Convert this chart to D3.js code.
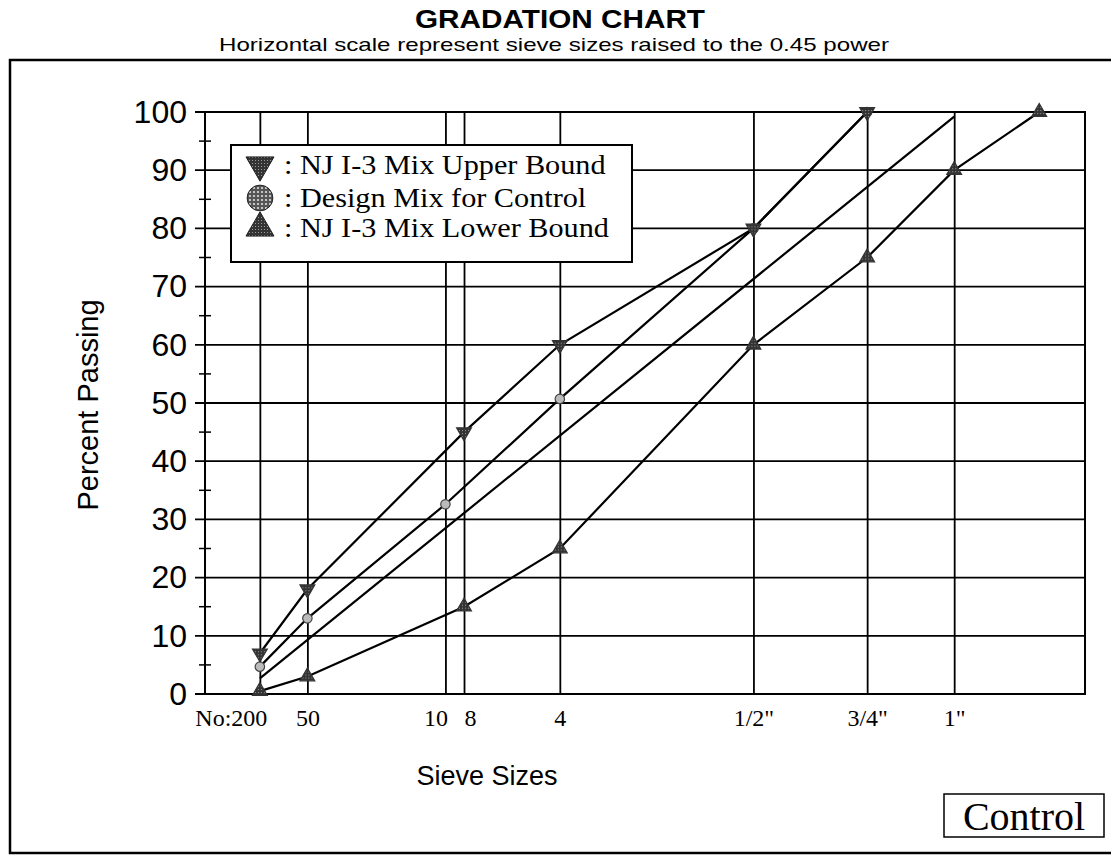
<!DOCTYPE html>
<html>
<head>
<meta charset="utf-8">
<script src="https://cdn.jsdelivr.net/npm/d3@7"></script>
<style>
  body { margin: 0; background: #fff; }
  svg { display: block; }
</style>
</head>
<body>
<div id="chart"></div>
<script>
// sieve openings in mm, with the labels used under the axis
const sieveSizes = [0.075, 0.3, 2.0, 2.36, 4.75, 12.5, 19.0, 25.0];
const sieveLabels = ["No:200", "50", "10", "8", "4", "1/2\"", "3/4\"", "1\""];
const yTicks = [0, 10, 20, 30, 40, 50, 60, 70, 80, 90, 100];
const yMinor = [5, 15, 25, 35, 45, 55, 65, 75, 85, 95];

const upperSizes = [0.075, 0.3, 2.36, 4.75, 12.5, 19.0];
const upperValues = [7, 18, 45, 60, 80, 100];

const designSizes = [0.075, 0.3, 2.0, 4.75, 12.5, 19.0];
const designValues = [4.7, 13, 32.6, 50.7, 80, 100];

const lowerSizes = [0.075, 0.3, 2.36, 4.75, 12.5, 19.0, 25.0, 31.75];
const lowerValues = [0.5, 3, 15, 25, 60, 75, 90, 100];

const densitySizes = [0.075, 25.0];
const densityValues = [2.7, 99.2];

const legendNames = [": NJ I-3 Mix Upper Bound", ": Design Mix for Control", ": NJ I-3 Mix Lower Bound"];

function drawChart() {

    const width = 1111;
    const height = 859;
    const sans = "Arial, 'Liberation Sans', Helvetica, sans-serif";
    const serif = "'Times New Roman', 'Liberation Serif', Times, serif";

    const svg = d3.select("#chart")
        .append("svg")
        .attr("width", width)
        .attr("height", height);

    const defs = svg.append("defs");
    const dots = defs.append("pattern")
        .attr("id", "dots")
        .attr("width", 4)
        .attr("height", 4)
        .attr("patternUnits", "userSpaceOnUse");
    dots.append("rect").attr("width", 4).attr("height", 4).attr("fill", "#555");
    dots.append("circle").attr("cx", 2).attr("cy", 2).attr("r", 1.1).attr("fill", "#ddd");

    const grain = defs.append("pattern")
        .attr("id", "grain")
        .attr("width", 3)
        .attr("height", 3)
        .attr("patternUnits", "userSpaceOnUse");
    grain.append("rect").attr("width", 3).attr("height", 3).attr("fill", "#333");
    grain.append("rect").attr("x", 1).attr("y", 1).attr("width", 1).attr("height", 1).attr("fill", "#999");

    // outer frame
    svg.append("rect")
        .attr("x", 10)
        .attr("y", 60)
        .attr("width", 1110)
        .attr("height", 793)
        .attr("fill", "none")
        .attr("stroke", "#000")
        .attr("stroke-width", 2.5);

    svg.append("text")
        .attr("x", 560)
        .attr("y", 28)
        .attr("text-anchor", "middle")
        .attr("textLength", 290)
        .attr("lengthAdjust", "spacingAndGlyphs")
        .style("font-family", sans)
        .style("font-weight", "bold")
        .style("font-size", "26px")
        .text("GRADATION CHART");

    svg.append("text")
        .attr("x", 554)
        .attr("y", 51)
        .attr("text-anchor", "middle")
        .attr("textLength", 670)
        .attr("lengthAdjust", "spacingAndGlyphs")
        .style("font-family", sans)
        .style("font-size", "19px")
        .text("Horizontal scale represent sieve sizes raised to the 0.45 power");

    // horizontal scale is size^0.45
    const x = d3.scalePow()
        .exponent(0.45)
        .domain([0, Math.pow(5, 1 / 0.45)])
        .range([205, 1085]);

    const y = d3.scaleLinear()
        .domain([0, 100])
        .range([694, 112]);

    // horizontal grid, sticking out left of the axis
    svg.append("g")
        .selectAll("line")
        .data(yTicks)
        .enter()
        .append("line")
        .attr("x1", 195)
        .attr("x2", 1085)
        .attr("y1", d => y(d))
        .attr("y2", d => y(d))
        .attr("stroke", "#000")
        .attr("stroke-width", 1.8);

    svg.append("g")
        .selectAll("line")
        .data(yMinor)
        .enter()
        .append("line")
        .attr("x1", 199)
        .attr("x2", 211)
        .attr("y1", d => y(d))
        .attr("y2", d => y(d))
        .attr("stroke", "#000")
        .attr("stroke-width", 1.5);

    const yAxis = svg.append("g")
        .attr("transform", "translate(205,0)")
        .call(d3.axisLeft(y).tickValues(yTicks).tickSize(10).tickPadding(8));
    yAxis.select(".domain").remove();
    yAxis.selectAll("line").remove();
    yAxis.selectAll("text")
        .style("font-family", sans)
        .style("font-size", "32px")
        .attr("fill", "#000");

    const xAxis = svg.append("g")
        .attr("transform", "translate(0,694)")
        .call(d3.axisBottom(x)
            .tickValues(sieveSizes)
            .tickSize(-582)
            .tickPadding(15)
            .tickFormat((d, i) => sieveLabels[i]));
    xAxis.select(".domain").remove();
    xAxis.selectAll("line")
        .attr("stroke", "#000")
        .attr("stroke-width", 1.8);
    xAxis.selectAll("text")
        .style("font-family", serif)
        .style("font-size", "24px")
        .attr("fill", "#000");
    // first label sits left of its line, and "10" / "8" are pushed apart
    xAxis.selectAll("text")
        .filter((d, i) => i === 0)
        .attr("text-anchor", "end")
        .attr("dx", 7);
    xAxis.selectAll("text")
        .filter((d, i) => sieveLabels[i] === "10")
        .attr("text-anchor", "end")
        .attr("dx", 2);
    xAxis.selectAll("text")
        .filter((d, i) => sieveLabels[i] === "8")
        .attr("text-anchor", "start")
        .attr("dx", 0);

    // plot border
    svg.append("rect")
        .attr("x", x(0))
        .attr("y", y(100))
        .attr("width", x.range()[1] - x(0))
        .attr("height", y(0) - y(100))
        .attr("fill", "none")
        .attr("stroke", "#000")
        .attr("stroke-width", 2);

    const line = d3.line()
        .x(d => x(d[0]))
        .y(d => y(d[1]));

    const series = [
        { sizes: densitySizes, values: densityValues, marker: null },
        { sizes: lowerSizes, values: lowerValues, marker: "up" },
        { sizes: designSizes, values: designValues, marker: "circle" },
        { sizes: upperSizes, values: upperValues, marker: "down" }
    ];

    series.forEach(s => {
        const pts = s.sizes.map((sz, i) => [sz, s.values[i]]);
        svg.append("path")
            .datum(pts)
            .attr("d", line)
            .attr("fill", "none")
            .attr("stroke", "#000")
            .attr("stroke-width", 2.2);
    });

    function marker(type, big) {
        if (type === "circle") {
            return d3.symbol().type(d3.symbolCircle).size(big ? 520 : 70)();
        }
        return d3.symbol().type(d3.symbolTriangle).size(big ? 340 : 95)();
    }

    series.filter(s => s.marker).forEach(s => {
        const pts = s.sizes.map((sz, i) => [sz, s.values[i]]);
        svg.append("g")
            .selectAll("path")
            .data(pts)
            .enter()
            .append("path")
            .attr("d", marker(s.marker, false))
            .attr("transform", d => `translate(${x(d[0])},${y(d[1])})` + (s.marker === "down" ? " rotate(180)" : ""))
            .attr("fill", s.marker === "circle" ? "#bbb" : "url(#grain)")
            .attr("stroke", s.marker === "circle" ? "#444" : "#333")
            .attr("stroke-width", 1.2);
    });

    // legend
    const legend = svg.append("g");
    legend.append("rect")
        .attr("x", 231)
        .attr("y", 145)
        .attr("width", 401)
        .attr("height", 117)
        .attr("fill", "#fff")
        .attr("stroke", "#000")
        .attr("stroke-width", 2);

    const legendMarkers = ["down", "circle", "up"];
    const legendY = [165, 198, 228];

    legendNames.forEach((name, i) => {
        legend.append("path")
            .attr("d", marker(legendMarkers[i], true))
            .attr("transform", `translate(260,${legendY[i]})` + (legendMarkers[i] === "down" ? " rotate(180)" : ""))
            .attr("fill", legendMarkers[i] === "circle" ? "url(#dots)" : "url(#grain)")
            .attr("stroke", "#222")
            .attr("stroke-width", 1);
        legend.append("text")
            .attr("transform", `translate(284,${legendY[i] + 9}) scale(1.08,1)`)
            .style("font-family", serif)
            .style("font-size", "28px")
            .text(name);
    });

    svg.append("text")
        .attr("transform", "translate(98,405) rotate(-90)")
        .attr("text-anchor", "middle")
        .style("font-family", sans)
        .style("font-size", "29px")
        .text("Percent Passing");

    svg.append("text")
        .attr("x", 487)
        .attr("y", 785)
        .attr("text-anchor", "middle")
        .style("font-family", sans)
        .style("font-size", "27px")
        .text("Sieve Sizes");

    svg.append("rect")
        .attr("x", 944)
        .attr("y", 794)
        .attr("width", 160)
        .attr("height", 43)
        .attr("fill", "#fff")
        .attr("stroke", "#000")
        .attr("stroke-width", 1.5);

    svg.append("text")
        .attr("x", 1024)
        .attr("y", 830)
        .attr("text-anchor", "middle")
        .style("font-family", serif)
        .style("font-size", "40px")
        .text("Control");
}

drawChart();
</script>
</body>
</html>
